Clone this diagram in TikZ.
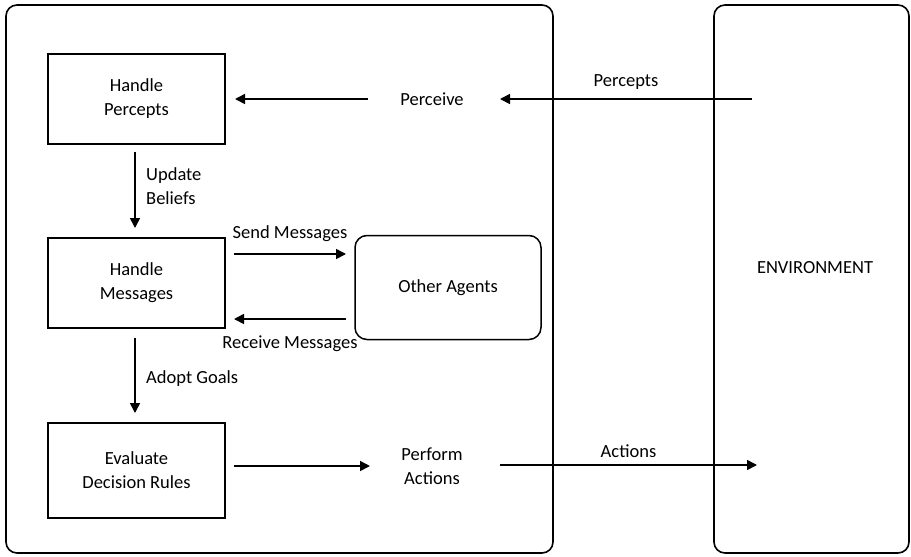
\documentclass[tikz,border=0pt]{standalone}
\usepackage{fontspec}
\setmainfont{Carlito}
\usetikzlibrary{arrows.meta}
\begin{document}
\begin{tikzpicture}[x=1pt,y=-1pt,
  every node/.style={font=\fontsize{18.5}{24}\selectfont, align=center, inner sep=0pt},
  frame/.style={draw, line width=1.6pt, rounded corners=11pt},
  procbox/.style={draw, line width=1.5pt, minimum width=177pt, minimum height=90pt},
  agentbox/.style={draw, line width=1.5pt, rounded corners=12pt, minimum width=186pt, minimum height=104pt},
  conn/.style={line width=1.6pt, -{Triangle[length=10pt,width=10pt]}},
  lbl/.style={align=left, anchor=west}]
\useasboundingbox (0,0) rectangle (911,557);
\fill[white] (0,0) rectangle (911,557);
% frames
\node[frame, minimum width=547pt, minimum height=548pt] (agent) at (279.5,279) {};
\node[frame, minimum width=195pt, minimum height=548pt] (env) at (811.5,279) {};
\node (envtext) at (815,268) {ENVIRONMENT};
% boxes
\node[procbox] (hp) at (136.5,99) {Handle\\Percepts};
\node[procbox] (hm) at (136.5,283) {Handle\\Messages};
\node[procbox, minimum height=95pt] (ed) at (136.5,470.5) {Evaluate\\Decision Rules};
\node[agentbox] (oa) at (448,287.5) {Other Agents};
% text nodes
\node (perceive) at (432,99) {Perceive};
\node (perform) at (432,466) {Perform\\Actions};
\coordinate (pin) at (752,99);
\coordinate (aout) at (757,465);
% connectors
\draw[conn] (pin) -- node[midway, yshift=17pt] {Percepts} (500,99);
\draw[conn] (368,99) -- (235,99);
\draw[conn] (135,152) -- (135,228);
\node[lbl] (ubl) at (146,186) {Update\\Beliefs};
\draw[conn] (234,254) -- node[midway, yshift=20pt] {Send Messages} (346,254);
\draw[conn] (346,319) -- node[midway, yshift=-25pt] {Receive Messages} (234,319);
\draw[conn] (135,338) -- (135,413);
\node[lbl] (agl) at (146,379) {Adopt Goals};
\draw[conn] (234,466) -- (370,466);
\draw[conn] (500,465) -- node[midway, yshift=14pt] {Actions} (aout);
\end{tikzpicture}
\end{document}
